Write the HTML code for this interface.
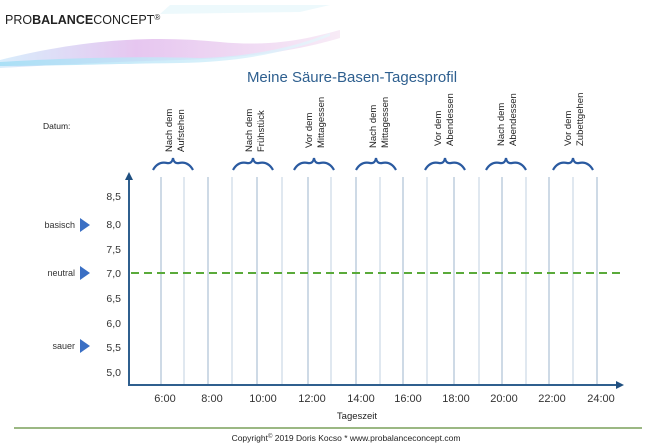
<!DOCTYPE html>
<html><head><meta charset="utf-8"><style>
html,body{margin:0;padding:0;background:#fff;width:650px;height:446px;overflow:hidden}
svg{display:block}
</style></head><body>
<svg width="650" height="446" viewBox="0 0 650 446" xmlns="http://www.w3.org/2000/svg" font-family="Liberation Sans, sans-serif">
<defs>
<linearGradient id="g1" x1="0" x2="1"><stop offset="0" stop-color="#cfe9fb"/><stop offset="0.4" stop-color="#e0b8ec"/><stop offset="1" stop-color="#f6e6f4"/></linearGradient>
<linearGradient id="g2" x1="0" x2="1"><stop offset="0" stop-color="#9fdcf5"/><stop offset="1" stop-color="#e8f6fc"/></linearGradient>
</defs>
<!-- header waves -->
<path d="M0 60 C80 40 150 35 220 42 C280 48 320 35 340 30 L340 38 C300 50 250 58 180 60 C100 62 40 66 0 68Z" fill="url(#g1)" opacity="0.8"/>
<path d="M0 62 C60 58 140 56 200 58 C260 56 300 45 330 33 L330 36 C290 52 240 62 180 63 C110 64 50 66 0 66Z" fill="url(#g2)" opacity="0.8"/>
<path d="M170 5 L330 5 L300 12 L160 14Z" fill="#e6f6fb" opacity="0.7"/>
<text x="5" y="24" font-size="12.5" fill="#222">PRO<tspan font-weight="bold">BALANCE</tspan>CONCEPT<tspan font-size="8" dy="-4">®</tspan></text>
<!-- title -->
<text x="352" y="82" font-size="15" fill="#2e5f8f" text-anchor="middle">Meine Säure-Basen-Tagesprofil</text>
<text x="43" y="129" font-size="8.5" fill="#222">Datum:</text>
<!-- rotated labels -->
<g font-size="9.5" fill="#222">
<text transform="translate(172,152) rotate(-90)">Nach dem</text><text transform="translate(184,152) rotate(-90)">Aufstehen</text>
<text transform="translate(252,152) rotate(-90)">Nach dem</text><text transform="translate(264,152) rotate(-90)">Frühstück</text>
<text transform="translate(312,148) rotate(-90)">Vor dem</text><text transform="translate(324,148) rotate(-90)">Mittagessen</text>
<text transform="translate(376,148) rotate(-90)">Nach dem</text><text transform="translate(388,148) rotate(-90)">Mittagessen</text>
<text transform="translate(441,146) rotate(-90)">Vor dem</text><text transform="translate(453,146) rotate(-90)">Abendessen</text>
<text transform="translate(504,146) rotate(-90)">Nach dem</text><text transform="translate(516,146) rotate(-90)">Abendessen</text>
<text transform="translate(571,146) rotate(-90)">Vor dem</text><text transform="translate(583,146) rotate(-90)">Zubettgehen</text>
</g>
<!-- braces -->
<g fill="none" stroke="#2a5aa0" stroke-width="2.2">
<path d="M153 170 Q158 161 167 163 Q172 164 173 158 Q174 164 179 163 Q188 161 193 170"/>
<path d="M233 170 Q238 161 247 163 Q252 164 253 158 Q254 164 259 163 Q268 161 273 170"/>
<path d="M294 170 Q299 161 308 163 Q313 164 314 158 Q315 164 320 163 Q329 161 334 170"/>
<path d="M356 170 Q361 161 370 163 Q375 164 376 158 Q377 164 382 163 Q391 161 396 170"/>
<path d="M425 170 Q430 161 439 163 Q444 164 445 158 Q446 164 451 163 Q460 161 465 170"/>
<path d="M486 170 Q491 161 500 163 Q505 164 506 158 Q507 164 512 163 Q521 161 526 170"/>
<path d="M553 170 Q558 161 567 163 Q572 164 573 158 Q574 164 579 163 Q588 161 593 170"/>
</g>
<!-- vertical grid -->
<g stroke="#9db4cc" stroke-width="1">
<line x1="161" y1="177" x2="161" y2="385"/><line x1="184" y1="177" x2="184" y2="385" stroke="#c2d2e0"/>
<line x1="208" y1="177" x2="208" y2="385"/><line x1="232" y1="177" x2="232" y2="385" stroke="#c2d2e0"/>
<line x1="257" y1="177" x2="257" y2="385"/><line x1="282" y1="177" x2="282" y2="385" stroke="#c2d2e0"/>
<line x1="308" y1="177" x2="308" y2="385"/><line x1="331" y1="177" x2="331" y2="385" stroke="#c2d2e0"/>
<line x1="356" y1="177" x2="356" y2="385"/><line x1="380" y1="177" x2="380" y2="385" stroke="#c2d2e0"/>
<line x1="403" y1="177" x2="403" y2="385"/><line x1="427" y1="177" x2="427" y2="385" stroke="#c2d2e0"/>
<line x1="454" y1="177" x2="454" y2="385"/><line x1="479" y1="177" x2="479" y2="385" stroke="#c2d2e0"/>
<line x1="502" y1="177" x2="502" y2="385"/><line x1="526" y1="177" x2="526" y2="385" stroke="#c2d2e0"/>
<line x1="549" y1="177" x2="549" y2="385"/><line x1="573" y1="177" x2="573" y2="385" stroke="#c2d2e0"/>
<line x1="597" y1="177" x2="597" y2="385"/>
</g>
<!-- green dashed -->
<line x1="131" y1="273" x2="622" y2="273" stroke="#5aaa3a" stroke-width="2" stroke-dasharray="8,5"/>
<!-- axes -->
<line x1="129" y1="178" x2="129" y2="385" stroke="#2f5f8e" stroke-width="2"/>
<path d="M125 180 L129 172 L133 180Z" fill="#1f4f80"/>
<line x1="128" y1="385" x2="618" y2="385" stroke="#2f5f8e" stroke-width="2"/>
<path d="M616 381 L624 385 L616 389Z" fill="#1f4f80"/>
<!-- y labels -->
<g font-size="10.5" fill="#333" text-anchor="end">
<text x="121" y="200">8,5</text><text x="121" y="228">8,0</text><text x="121" y="253">7,5</text><text x="121" y="277">7,0</text>
<text x="121" y="302">6,5</text><text x="121" y="327">6,0</text><text x="121" y="351">5,5</text><text x="121" y="376">5,0</text>
</g>
<g font-size="9" fill="#333" text-anchor="end">
<text x="75" y="228">basisch</text><text x="75" y="276">neutral</text><text x="75" y="349">sauer</text>
</g>
<g fill="#3a6fc4">
<path d="M80 218 L90 225 L80 232Z"/><path d="M80 266 L90 273 L80 280Z"/><path d="M80 339 L90 346 L80 353Z"/>
</g>
<!-- x labels -->
<g font-size="11" fill="#333" text-anchor="middle">
<text x="165" y="402">6:00</text><text x="212" y="402">8:00</text><text x="263" y="402">10:00</text><text x="312" y="402">12:00</text>
<text x="361" y="402">14:00</text><text x="408" y="402">16:00</text><text x="456" y="402">18:00</text><text x="504" y="402">20:00</text>
<text x="552" y="402">22:00</text><text x="601" y="402">24:00</text>
</g>
<text x="357" y="419" font-size="9.5" fill="#222" text-anchor="middle">Tageszeit</text>
<line x1="14" y1="428" x2="642" y2="428" stroke="#7aa05a" stroke-width="1.5"/>
<text x="346" y="441" font-size="8.5" fill="#222" text-anchor="middle">Copyright<tspan font-size="6" dy="-3">©</tspan><tspan dy="3"> 2019 Doris Kocso * www.probalanceconcept.com</tspan></text>
</svg>
</body></html>
